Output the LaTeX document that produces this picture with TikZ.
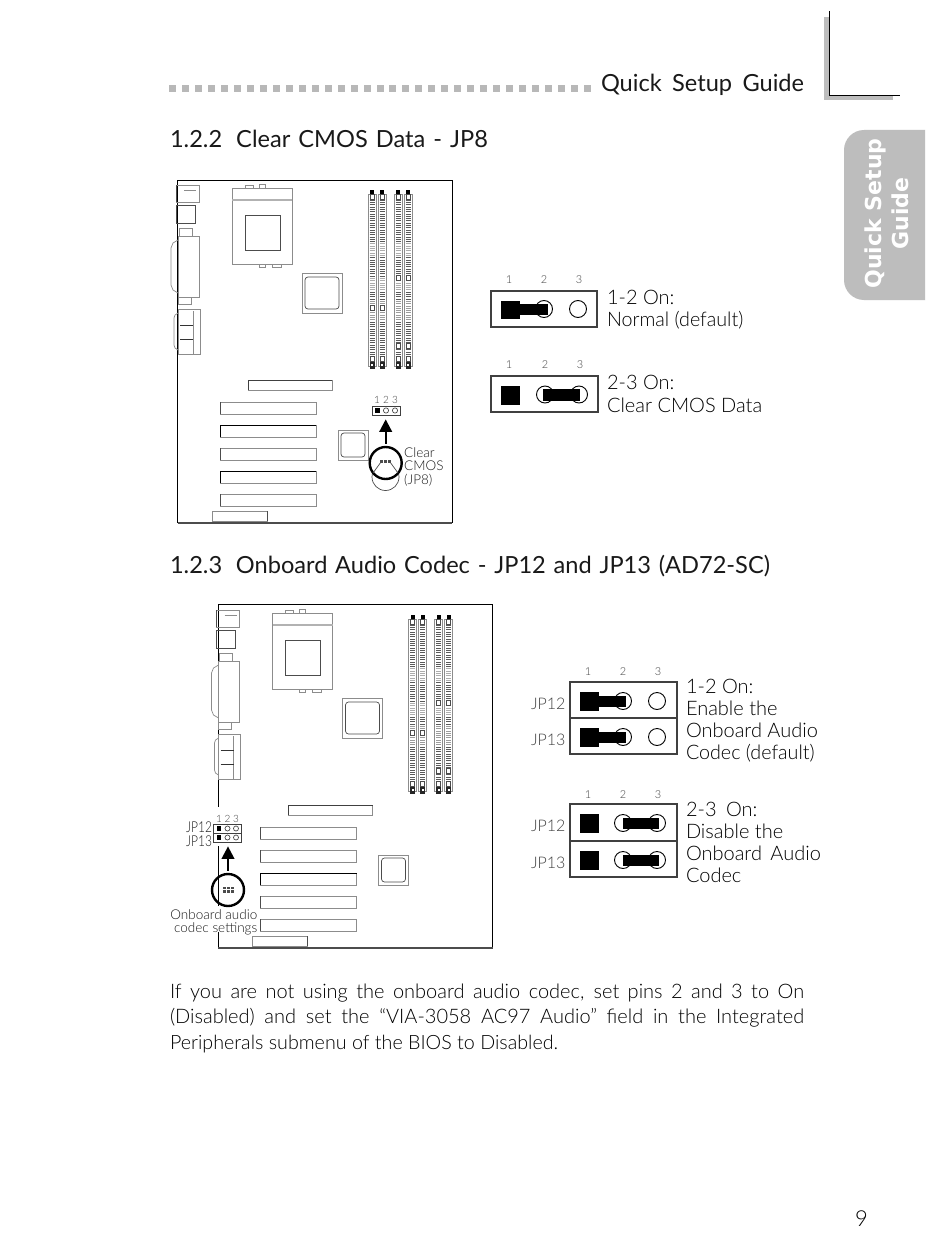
\documentclass[tikz,border=0pt]{standalone}
\usepackage{fontspec}
\usepackage{graphicx}
\usetikzlibrary{arrows.meta,calc}
\setmainfont{Lato}[UprightFont=* Light,BoldFont=* Bold]
\newfontfamily\headfont{Lato}
\newfontfamily\tabfont{DejaVu Sans Bold}
\definecolor{tabgray}{gray}{0.74}
\definecolor{linegray}{gray}{0.3}
\definecolor{softgray}{gray}{0.55}
\newcommand{\fs}[1]{\fontsize{#1}{#1}\selectfont}
\newcommand{\narrowtxt}[1]{\scalebox{0.8}[1]{#1}}
\tikzset{
  x=1pt,y=-1pt,
  part/.style={draw=linegray,line width=0.7pt},
  softpart/.style={draw=softgray,line width=0.7pt},
  slotbox/.style={draw=softgray,line width=0.8pt,fill=white},
  txt/.style={anchor=base west,inner sep=0pt,outer sep=0pt,text=black},
  headtxt/.style={anchor=base west,inner sep=0pt,outer sep=0pt,text=black!90,font=\headfont\fs{23.6}},
  pinlabel/.style={anchor=base,inner sep=0pt,font=\fs{11},text=black!75},
  jumperbox/.style={draw=black!75,line width=1.2pt,fill=white},
  pinring/.style={draw=black,line width=0.9pt,fill=white},
  solid block/.style={fill=black,draw=none},
  callout/.style={draw=black,line width=2.4pt,fill=white,circle,inner sep=0pt,minimum size=32pt},
  pointer/.style={line width=2.2pt,-{Triangle[length=12.5pt,width=12.5pt]},shorten >=4pt,shorten <=2pt},
  minijumper/.style={draw=black!75,line width=0.7pt,fill=white,inner sep=0pt,minimum width=27.5pt,minimum height=9pt},
  smalltext/.style={anchor=base west,inner sep=0pt,font=\fs{13.5},text=black!90},
}
% one memory socket at left edge #1
\newcommand{\dimm}[1]{%
  \draw[softpart] (#1,194) rectangle (#1+8,366);
  \foreach \r in {200,202.3,...,358}{\draw[black!65,line width=0.6pt] (#1+1.5,\r) -- (#1+6.5,\r);}
  \fill[white,opacity=.5] (#1+1,243) rectangle (#1+7,256);
  \fill[white,opacity=.5] (#1+1,277) rectangle (#1+7,290);
  \fill[white,opacity=.4] (#1+1,300) rectangle (#1+7,320);
  \fill[black] (#1+2,190) rectangle (#1+6,193.5);
  \fill[white] (#1+1.5,194) rectangle (#1+6.5,200);
  \draw[linegray,line width=0.6pt] (#1+2,194) rectangle (#1+6,199);
  \fill[white] (#1+1.5,356) rectangle (#1+6.5,362);
  \draw[linegray,line width=0.6pt] (#1+2,356) rectangle (#1+6,361);
  \fill[black!85] (#1+1.5,362) rectangle (#1+6.5,369);
  \fill[white] (#1+3,363.5) rectangle (#1+5,365.5);
}
% a notch in a socket
\newcommand{\notch}[2]{\draw[linegray,line width=0.6pt,fill=white] (#1+2,#2-2.5) rectangle (#1+6,#2+2.5);}
% the board, in the coordinates of the first drawing; #1 lists the slots with dark edges
\newcommand{\boardparts}[1]{%
  % back panel
  \draw[softpart] (176,185) rectangle (199,202);
  \draw[part] (176,185) -- (176,202);
  \draw[softpart] (184,190) -- (196,190);
  \draw[part] (176,205) rectangle (195,223);
  \draw[softpart] (179,228) rectangle (192,236);
  \draw[softpart] (178,236) rectangle (199,297);
  \draw[softpart] (178,240) -- (173,243) -- (171,248) -- (171,285) -- (173,290) -- (178,293);
  \draw[softpart] (178,297) rectangle (191,304);
  \draw[softpart] (178,309) rectangle (200,354);
  \draw[softpart] (178,313) -- (175,315) -- (174,318) -- (174,345) -- (175,348) -- (178,350);
  \draw[softpart] (193,311) -- (193,354);
  \draw[black!80,line width=1pt] (180,325) -- (193,325);
  \draw[black!80,line width=1pt] (180,339) -- (193,339);
  % processor socket
  \draw[softpart] (232,188) rectangle (292,264);
  \draw[softpart,line width=1.2pt,draw=black!30] (232,200) -- (292,200);
  \draw[part] (245,215) rectangle (280,250);
  \draw[softpart] (245,185) rectangle (253,188);
  \draw[softpart] (259,184) rectangle (265,188);
  \draw[softpart] (259,264) rectangle (265,267);
  \draw[softpart] (272,264) rectangle (281,267);
  % chips
  \draw[softpart] (302,273) rectangle (342,313);
  \draw[part,rounded corners=3pt] (305,277) rectangle (339,309);
  \draw[softpart] (338,430) rectangle (368,460);
  \draw[part,rounded corners=3pt] (341,433) rectangle (365,457);
  % memory sockets
  \dimm{368}\dimm{378}\dimm{394}\dimm{404}
  \notch{368}{308}\notch{378}{308}
  \notch{394}{278}\notch{404}{278}
  \notch{394}{346}\notch{404}{346}
  % expansion slots
  \draw[slotbox] (248,380) rectangle (332,390);
  \draw[black!75,line width=0.8pt] (248,390) -- (248,380) -- (332,380);
  \foreach \r in {402,425,448,471,494}{
    \draw[slotbox] (220,\r) rectangle (316,\r+12);
    \draw[black!70,line width=0.8pt] (220,\r) -- (220,\r+12);
  }
  \foreach \r in {#1}{\draw[black,line width=1pt] (220,\r+12) -- (220,\r) -- (316,\r);}
  \draw[softpart,fill=white] (212,511) rectangle (267,521);
  \draw[part] (267,511) -- (267,521);
}
\begin{document}
\begin{tikzpicture}
\useasboundingbox (0,0) rectangle (950,1244);
\fill[white] (0,0) rectangle (950,1244);

% page furniture
\foreach \i in {0,...,32}{\fill[black!28] (169+\i*12.97,85) rectangle +(7,7);}
\node[headtxt] (runhead) at (601,92) {\makebox[203pt][s]{Quick Setup Guide}};
\fill[tabgray] (824,17) rectangle (830,100);
\fill[tabgray] (824,95) rectangle (893,100);
\draw[black,line width=0.9pt] (829,11) -- (829,95) -- (900,95);
\fill[tabgray] (925,130) -- (864,130) .. controls (853,130) and (844,139) .. (844,150) -- (844,280) .. controls (844,291) and (853,300) .. (864,300) -- (925,300) -- cycle;
\node[rotate=90,anchor=center,align=center,text=white,font=\tabfont\fontsize{22}{27}\selectfont] (tab) at (886.5,213.5) {Quick Setup\\Guide};
\node[headtxt] (h1) at (170,147) {\makebox[318pt][s]{1.2.2\hspace{6pt} Clear CMOS Data - JP8}};
\node[headtxt] (h2) at (170,573) {\makebox[600pt][s]{1.2.3\hspace{6pt} Onboard Audio Codec - JP12 and JP13 (AD72-SC)}};

% first board
\draw[black,line width=1pt] (177.5,523) -- (177.5,180) -- (452,180) -- (452,523);
\draw[black!70,line width=1.4pt] (177.5,523) -- (452,523);
\boardparts{425,471}
\node[minijumper,minimum width=28pt] (jpe) at (386,410.5) {};
\fill[black] (375,408) rectangle (379.5,413);
\draw[part] (386,410.5) circle (2.6);
\draw[part] (395,410.5) circle (2.6);
\node[pinlabel,font=\fs{10}] (ja) at (377,403) {1};
\node[pinlabel,font=\fs{10}] (jb) at (386,403) {2};
\node[pinlabel,font=\fs{10}] (jc) at (395,403) {3};
\draw[part] (385.5,477) circle (13.5);
\node[callout] (jpec) at (385.7,463) {};
\draw[part] (373,473) -- (381,462);
\draw[part] (398,473) -- (390,462);
\fill[black!70] (380,459.5) rectangle (391,462.5);
\draw[white,line width=0.5pt] (383.5,459.5) -- (383.5,462.5) (387,459.5) -- (387,462.5);
\draw[pointer] (jpec.north) -- (jpec.north |- jpe.south);
\node[smalltext] (clr1) at (404,457) {Clear};
\node[smalltext] (clr2) at (404,470) {CMOS};
\node[smalltext] (clr3) at (404,484) {(JP8)};

% first pair of jumper pictures
\node[pinlabel] (a1) at (509,283) {1};
\node[pinlabel] (a2) at (544,283) {2};
\node[pinlabel] (a3) at (579,283) {3};
\draw[jumperbox] (491,291) rectangle (597,327);
\draw[pinring] (544,309) circle (8.5);
\draw[pinring] (578,309) circle (8.5);
\fill[solid block] (501,301) rectangle (520,319);
\fill[solid block] (520,304) rectangle (548,315);
\node[txt,font=\fs{20}] (t1) at (607,304) {1-2 On:};
\node[txt,font=\fs{20}] (t2) at (607,326) {\scalebox{0.985}[1]{Normal (default)}};

\node[pinlabel] (b1) at (509,368) {1};
\node[pinlabel] (b2) at (545,368) {2};
\node[pinlabel] (b3) at (580,368) {3};
\draw[jumperbox] (491,376) rectangle (598,412);
\draw[pinring] (545,394.5) circle (8.5);
\draw[pinring] (579,394.5) circle (8.5);
\fill[solid block] (501,386) rectangle (520,405);
\fill[solid block] (543,389) rectangle (580,401);
\node[txt,font=\fs{20}] (t3) at (607,389) {2-3 On:};
\node[txt,font=\fs{20}] (t4) at (607,412) {Clear CMOS Data};

% second board
\begin{scope}[shift={(40.5,425)}]
\draw[black,line width=1pt] (177.5,523) -- (177.5,179.5) -- (452,179.5) -- (452,523);
\draw[black!70,line width=1.4pt] (177.5,523) -- (452,523);
\boardparts{448}
\end{scope}
\fill[white] (185,807) rectangle (243,846);
\fill[white] (170,906) rectangle (258,932);
\node[minijumper] (jpa) at (227.5,828.5) {};
\node[minijumper] (jpb) at (227.5,837.5) {};
\foreach \r in {828.5,837.5}{
  \fill[black] (216.5,\r-2.3) rectangle (221,\r+2.3);
  \draw[part] (227.5,\r) circle (2.5);
  \draw[part] (236,\r) circle (2.5);
}
\node[pinlabel,font=\fs{10}] (ca) at (219,822.5) {1};
\node[pinlabel,font=\fs{10}] (cb) at (227.5,822.5) {2};
\node[pinlabel,font=\fs{10}] (cc) at (236,822.5) {3};
\node[smalltext,font=\fs{15}] (l12) at (186,832.5) {\narrowtxt{JP12}};
\node[smalltext,font=\fs{15}] (l13) at (186,846) {\narrowtxt{JP13}};
\node[callout,fill=none] (jpc) at (228,890) {};
\fill[black!70] (223,887) rectangle (233.5,892.5);
\draw[white,line width=0.5pt] (226.5,887) -- (226.5,892.5) (230,887) -- (230,892.5) (223,889.7) -- (233.5,889.7);
\draw[pointer] (jpc.north) -- (jpc.north |- jpb.south);
\node[smalltext,anchor=base east] (oa) at (257.5,919) {Onboard audio};
\node[smalltext,anchor=base east] (cs) at (257.5,932.5) {codec settings};

% second pair of jumper pictures
\node[pinlabel] (d1) at (588,675) {1};
\node[pinlabel] (d2) at (623,675) {2};
\node[pinlabel] (d3) at (658,675) {3};
\draw[jumperbox] (570,682) rectangle (677,718);
\draw[jumperbox] (570,718) rectangle (677,754);
\foreach \r in {701,737}{
  \draw[pinring] (623,\r) circle (8.5);
  \draw[pinring] (657,\r) circle (8.5);
  \fill[solid block] (580,\r-9) rectangle (599,\r+9.5);
  \fill[solid block] (599,\r-5) rectangle (626,\r+6);
}
\node[pinlabel] (e1) at (588,798) {1};
\node[pinlabel] (e2) at (623,798) {2};
\node[pinlabel] (e3) at (658,798) {3};
\draw[jumperbox] (570,804) rectangle (677,841);
\draw[jumperbox] (570,841) rectangle (677,877);
\foreach \r in {823,860}{
  \draw[pinring] (623,\r) circle (8.5);
  \draw[pinring] (657,\r) circle (8.5);
  \fill[solid block] (580,\r-9) rectangle (599,\r+10);
  \fill[solid block] (623,\r-5) rectangle (659,\r+6);
}
\foreach \n/\r/\t in {f1/709/JP12,f2/745/JP13,f3/831/JP12,f4/868/JP13}{
  \node[txt,font=\fs{16},text=black!75] (\n) at (531,\r) {\makebox[33pt][s]{\t}};
}
\node[txt,font=\fs{20}] (g1) at (686,693) {1-2 On:};
\node[txt,font=\fs{20}] (g2) at (686,715) {Enable the};
\node[txt,font=\fs{20}] (g3) at (686,737) {Onboard Audio};
\node[txt,font=\fs{20}] (g4) at (686,759) {\scalebox{0.985}[1]{Codec (default)}};
\node[txt,font=\fs{20}] (k1) at (686,816) {2-3\hspace{4pt} On:};
\node[txt,font=\fs{20}] (k2) at (686,838) {Disable the};
\node[txt,font=\fs{20}] (k3) at (686,860) {Onboard\hspace{3pt} Audio};
\node[txt,font=\fs{20}] (k4) at (686,882) {Codec};

% closing paragraph
\node[txt,font=\fs{20}] (p1) at (170,998) {\makebox[634pt][s]{If you are not using the onboard audio codec, set pins 2 and 3 to On}};
\node[txt,font=\fs{20}] (p2) at (170,1023) {\makebox[634pt][s]{(Disabled) and set the ``VIA-3058 AC97 Audio'' field in the Integrated}};
\node[txt,font=\fs{19.7}] (p3) at (170,1049) {Peripherals submenu of the BIOS to Disabled.};
\node[txt,font=\fs{22}] (pg) at (855,1226) {9};
\end{tikzpicture}
\end{document}
